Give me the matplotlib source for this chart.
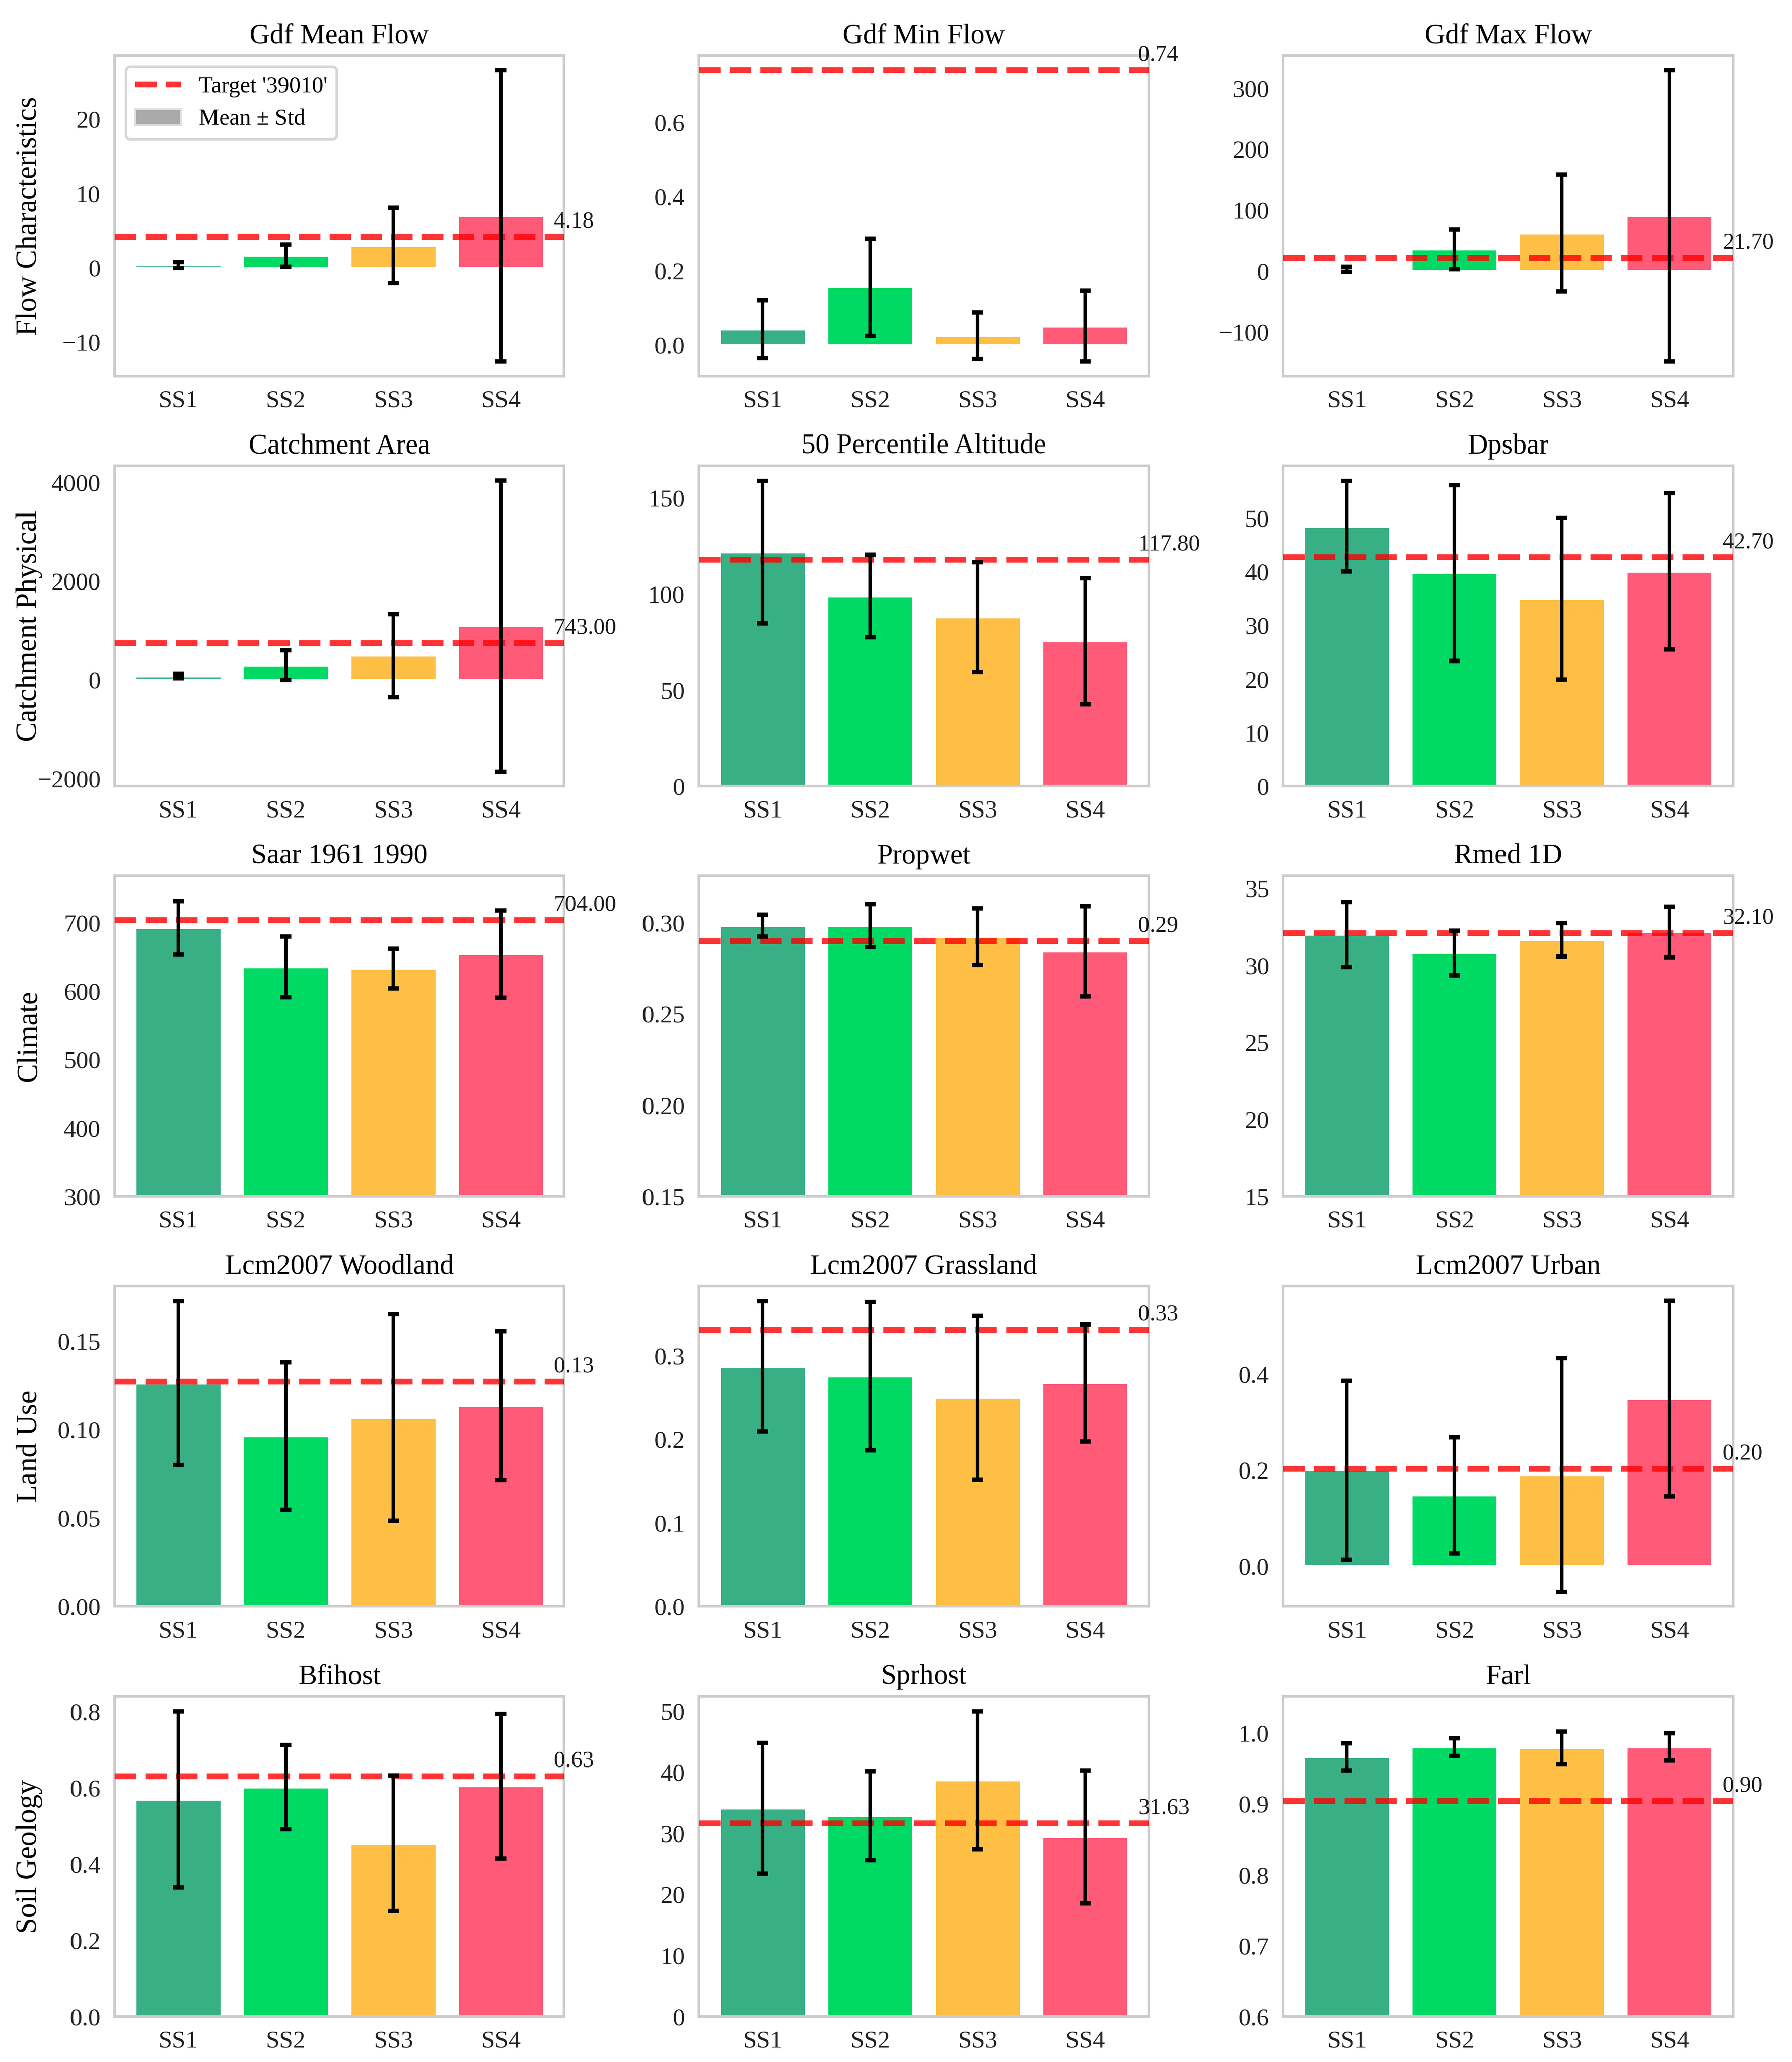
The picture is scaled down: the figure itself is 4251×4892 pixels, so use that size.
import matplotlib
matplotlib.use('Agg')
import matplotlib.pyplot as plt
import matplotlib.transforms as mtransforms
from matplotlib.lines import Line2D
from matplotlib.patches import Patch
from matplotlib.ticker import MaxNLocator

plt.rcParams['font.family'] = ['Liberation Serif', 'DejaVu Serif']

# groups and their colours
groups = ['SS1', 'SS2', 'SS3', 'SS4']
group_colors = ['#38AF85', '#00D964', '#FEBF44', '#FF5A78']

row_labels = ['Flow Characteristics', 'Catchment Physical', 'Climate', 'Land Use', 'Soil Geology']

titles = ['Gdf Mean Flow', 'Gdf Min Flow', 'Gdf Max Flow',
          'Catchment Area', '50 Percentile Altitude', 'Dpsbar',
          'Saar 1961 1990', 'Propwet', 'Rmed 1D',
          'Lcm2007 Woodland', 'Lcm2007 Grassland', 'Lcm2007 Urban',
          'Bfihost', 'Sprhost', 'Farl']

# target catchment '39010' values
targets = [4.18, 0.74, 21.70,
           743.0, 117.8, 42.7,
           704.0, 0.29, 32.1,
           0.127, 0.331, 0.203,
           0.63, 31.63, 0.904]

# group means / standard deviations per feature
gdf_mean_flow_mean = [0.35, 1.65, 3.0, 7.0]
gdf_mean_flow_std = [0.4, 1.5, 5.07, 19.6]
gdf_min_flow_mean = [0.043, 0.156, 0.025, 0.051]
gdf_min_flow_std = [0.078, 0.131, 0.063, 0.095]
gdf_max_flow_mean = [3.0, 35.7, 62.2, 90.5]
gdf_max_flow_std = [4.0, 32.8, 96.2, 238.8]
catchment_area_mean = [80, 298, 494, 1091]
catchment_area_std = [50, 299, 842, 2951]
altitude_mean = [121.8, 98.9, 88.0, 75.5]
altitude_std = [37.0, 21.5, 28.5, 32.8]
dpsbar_mean = [48.5, 39.8, 35.0, 40.1]
dpsbar_std = [8.45, 16.4, 15.1, 14.6]
saar_mean = [692.8, 635.6, 633.0, 654.4]
saar_std = [39.2, 44.6, 28.9, 63.7]
propwet_mean = [0.2984, 0.2984, 0.2924, 0.2843]
propwet_std = [0.006, 0.0118, 0.0155, 0.0247]
rmed_mean = [32.0, 30.8, 31.66, 32.17]
rmed_std = [2.1, 1.46, 1.09, 1.64]
woodland_mean = [0.1262, 0.0963, 0.1069, 0.1136]
woodland_std = [0.0463, 0.0417, 0.0584, 0.042]
grassland_mean = [0.2874, 0.2754, 0.25, 0.2676]
grassland_std = [0.0778, 0.0888, 0.0978, 0.0702]
urban_mean = [0.2003, 0.1478, 0.19, 0.3498]
urban_std = [0.1864, 0.121, 0.244, 0.204]
bfihost_mean = [0.5695, 0.6018, 0.4542, 0.6044]
bfihost_std = [0.2305, 0.1103, 0.1778, 0.1894]
sprhost_mean = [34.1, 32.9, 38.7, 29.45]
sprhost_std = [10.7, 7.3, 11.25, 10.9]
farl_mean = [0.9667, 0.980, 0.9787, 0.9804]
farl_std = [0.019, 0.0124, 0.0232, 0.0192]

means = [gdf_mean_flow_mean, gdf_min_flow_mean, gdf_max_flow_mean,
         catchment_area_mean, altitude_mean, dpsbar_mean,
         saar_mean, propwet_mean, rmed_mean,
         woodland_mean, grassland_mean, urban_mean,
         bfihost_mean, sprhost_mean, farl_mean]
stds = [gdf_mean_flow_std, gdf_min_flow_std, gdf_max_flow_std,
        catchment_area_std, altitude_std, dpsbar_std,
        saar_std, propwet_std, rmed_std,
        woodland_std, grassland_std, urban_std,
        bfihost_std, sprhost_std, farl_std]

# lower y limit per panel (None = automatic)
y_bottoms = [None, None, None,
             None, 0, 0,
             300, 0.15, 15,
             0, 0, None,
             0, 0, 0.6]

fig, axes = plt.subplots(5, 3, figsize=(4251 / 300, 4892 / 300), dpi=300)
fig.subplots_adjust(left=0.064, right=0.967, top=0.973, bottom=0.022,
                    wspace=0.30, hspace=0.28)

x = list(range(len(groups)))
for i, ax in enumerate(axes.flat):
    ax.bar(x, means[i], width=0.8, color=group_colors,
           edgecolor='white', linewidth=1.2, zorder=2)
    ax.errorbar(x, means[i], yerr=stds[i], fmt='none', ecolor='black',
                elinewidth=2, capsize=3.2, capthick=2.5, zorder=4)
    ax.axhline(targets[i], color='red', linestyle='--', linewidth=3.3,
               alpha=0.8, zorder=3)

    # target value written just past the right edge, above the line
    trans = mtransforms.blended_transform_factory(ax.transAxes, ax.transData)
    trans = mtransforms.offset_copy(trans, fig=fig, x=0, y=2.5, units='points')
    ax.text(0.977, targets[i], f'{targets[i]:.2f}', transform=trans,
            ha='left', va='bottom', fontsize=13, color='#1a1a1a')

    ax.yaxis.set_major_locator(MaxNLocator(nbins=6, steps=[1, 2, 2.5, 5, 10]))
    if y_bottoms[i] is not None:
        ax.set_ylim(bottom=y_bottoms[i])

    ax.set_title(titles[i], fontsize=16, pad=7)
    ax.set_xticks(x)
    ax.set_xticklabels(groups)
    ax.tick_params(axis='both', length=0, labelsize=14, colors='#222222', pad=8)
    for sp in ax.spines.values():
        sp.set_color('#cccccc')
        sp.set_linewidth(1.5)

    if i % 3 == 0:
        ax.set_ylabel(row_labels[i // 3], fontsize=16.5)
        ax.yaxis.set_label_coords(-0.16, 0.5)

handles = [Line2D([0], [0], color='red', linestyle='--', linewidth=3.3, alpha=0.8),
           Patch(facecolor='#aaaaaa', edgecolor='#dddddd')]
leg = axes[0, 0].legend(handles, ["Target '39010'", 'Mean \u00b1 Std'],
                        loc='upper left', fontsize=13, frameon=True,
                        fancybox=True, edgecolor='#cccccc')
leg.get_frame().set_linewidth(1.5)

fig.savefig('out.png', dpi=300)
